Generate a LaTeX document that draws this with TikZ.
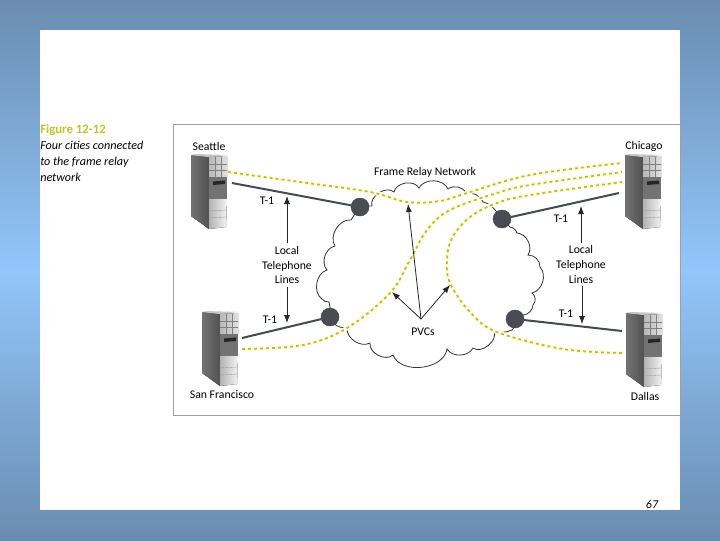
\documentclass[tikz,border=0pt]{standalone}
\usepackage{fontspec}
\setmainfont{Carlito}
\usetikzlibrary{arrows.meta}
\definecolor{bgedge}{HTML}{6A8CB0}
\definecolor{bgmid}{HTML}{93C6FA}
\definecolor{framegray}{HTML}{A0A0A0}
\definecolor{pvcyellow}{HTML}{B9B93C}
\definecolor{capyellow}{HTML}{C2C22E}
\definecolor{darkline}{HTML}{454B53}
\definecolor{popfill}{HTML}{4A4B53}
\tikzset{
  x=0.75pt,y=-0.75pt,
  lbl/.style={font=\fontsize{8.8pt}{10.7pt}\selectfont,text=black,inner sep=0pt,align=center},
  captext/.style={font=\fontsize{9.1pt}{12pt}\selectfont\itshape,inner sep=0pt,anchor=base west},
  pop/.style={circle,fill=popfill,draw=popfill!80!black,line width=0.3pt,minimum size=13.5pt,inner sep=0pt},
  tline/.style={draw=darkline,line width=1.5pt},
  pvchalo/.style={draw=yellow!12,line width=3.2pt,smooth,tension=0.6},
  pvc/.style={draw=pvcyellow,line width=1.3pt,dash pattern=on 2.2pt off 2.3pt,smooth,tension=0.6},
  arr/.style={draw=black!85,line width=0.6pt,-{Latex[length=6pt,width=4.5pt]}},
  cloud line/.style={draw=black!80,line width=0.6pt,fill=white},
  server/.pic={
    \fill[left color=black!55,right color=black!68] (0,0)--(18,2)--(18,74)--(0,61)--cycle;
    \fill[black!22] (0,0)--(5,-1)--(36,0)--(18,2)--cycle;
    \fill[left color=black!28,right color=black!12] (18,2)--(36,1)--(36,22)--(18,22)--cycle;
    \draw[black!50,line width=0.25pt] (24,2)--(24,22) (30,2)--(30,22) (18,9)--(36,9) (18,15)--(36,15);
    \fill[black!55] (18,22)--(36,22)--(36,44)--(18,44)--cycle;
    \fill[black!85] (22,26.5)--(34,25.5)--(34,29)--(22,30)--cycle;
    \fill[left color=black!30,right color=black!4] (18,44)--(36,44)--(35,72)--(18,74)--cycle;
    \draw[black!40,line width=0.25pt] (18,56)--(35.5,55) (18,63)--(35.5,62);
  },
}
\begin{document}
\begin{tikzpicture}
\useasboundingbox (0,0) rectangle (720,540);
\shade[top color=bgedge,bottom color=bgedge,middle color=bgmid] (0,0) rectangle (720,540);
\fill[white] (40,30) rectangle (680,510);
\draw[framegray,line width=0.7pt] (173.5,124) rectangle (680,415);

% caption
\node[lbl,anchor=base west,text=capyellow,font=\fontsize{9.6pt}{10pt}\selectfont\bfseries] (figno) at (40,133) {Figure 12-12};
\node[captext] (c1) at (40,149) {Four cities connected};
\node[captext] (c2) at (40,165) {to the frame relay};
\node[captext] (c3) at (40,181) {network};

% cloud
\path[cloud line] (372,206)
  to[bend left=75] (394,192) to[bend left=70] (419,188) to[bend left=65] (448,189)
  to[bend left=50] (466,193) to[bend left=35] (483,202) to[bend left=20] (495,210)
  -- (510,227) to[bend left=30] (517,233) to[bend left=60] (528,255) to[bend left=45] (540,267)
  to[bend left=60] (532,293) to[bend left=50] (533,305) to[bend left=40] (523,315)
  -- (512,330) to[bend left=20] (494,331) to[bend left=75] (473,348) to[bend left=60] (447,349)
  to[bend left=75] (393,355) to[bend left=70] (370,343) to[bend left=60] (347,328)
  to[bend left=20] (333,323) -- (329,302) to[bend left=25] (322,299)
  to[bend left=65] (327,270) to[bend left=60] (335,246) to[bend left=65] (351,220) -- (360,206) -- cycle;

% PVC paths
\coordinate (seaP) at (228,172);
\coordinate (chiA) at (622,163);
\coordinate (chiB) at (622,172);
\coordinate (chiC) at (622,182);
\coordinate (sfP) at (242,349);
\coordinate (dalP) at (622,353);
\draw[pvchalo] plot coordinates {(seaP) (300,182) (370,192) (407,202) (440,201) (467,193) (530,175) (chiA)};
\draw[pvchalo] plot coordinates {(sfP) (303,345) (347,328) (390,293) (410,260) (427,230) (450,210) (497,193) (530,185) (chiB)};
\draw[pvchalo] plot coordinates {(dalP) (563,349) (497,332) (470,312) (450,283) (447,260) (452,238) (470,217) (497,203) (530,195) (chiC)};
\draw[pvc] plot coordinates {(seaP) (300,182) (370,192) (407,202) (440,201) (467,193) (530,175) (chiA)};
\draw[pvc] plot coordinates {(sfP) (303,345) (347,328) (390,293) (410,260) (427,230) (450,210) (497,193) (530,185) (chiB)};
\draw[pvc] plot coordinates {(dalP) (563,349) (497,332) (470,312) (450,283) (447,260) (452,238) (470,217) (497,203) (530,195) (chiC)};

% servers
\pic (sea) at (191,155) {server};
\pic (chi) at (625,155) {server};
\pic (sf) at (202,312) {server};
\pic (dal) at (626,313) {server};

% points of presence
\node[pop] (p1) at (360,207) {};
\node[pop] (p2) at (502,219) {};
\node[pop] (p3) at (330,317) {};
\node[pop] (p4) at (515,319) {};

\coordinate (seaT) at (232,183);
\coordinate (chiT) at (619,193);
\coordinate (sfT) at (242,338);
\coordinate (dalT) at (622,331);
\draw[tline] (seaT) -- (p1);
\draw[tline] (chiT) -- (p2);
\draw[tline] (sfT) -- (p3);
\draw[tline] (dalT) -- (p4);

% labels
\node[lbl] (lsea) at (209,146) {Seattle};
\node[lbl] (lchi) at (644,146) {Chicago};
\node[lbl] (lsf) at (222,394) {San Francisco};
\node[lbl] (ldal) at (645,396) {Dallas};
\node[lbl] (t1) at (267,201) {T-1};
\node[lbl] (t2) at (561,219) {T-1};
\node[lbl] (t3) at (270,320) {T-1};
\node[lbl] (t4) at (566,314) {T-1};
\node[lbl] (frn) at (425,172) {Frame Relay Network};
\node[lbl] (pvcs) at (423,332) {PVCs};
\node[lbl,outer sep=2pt] (ltl) at (287,265) {Local\\[0.5pt]Telephone\\[0.5pt]Lines};
\node[lbl,outer sep=2pt] (ltr) at (581,264.5) {Local\\[0.5pt]Telephone\\[0.5pt]Lines};

% arrows
\coordinate (ta1) at (287,196);
\coordinate (ta2) at (287,323);
\coordinate (ta3) at (581,206);
\coordinate (ta4) at (582,324);
\draw[arr] (ltl.north) -- (ta1);
\draw[arr] (ltl.south) -- (ta2);
\draw[arr] (ltr.north) -- (ta3);
\draw[arr] (ltr.south -| ta4) -- (ta4);
\coordinate (hub) at (421,319);
\coordinate (pa) at (408,204);
\coordinate (pb) at (392,292);
\coordinate (pc) at (450,285);
\draw[arr] (hub) -- (pa);
\draw[arr] (hub) -- (pb);
\draw[arr] (hub) -- (pc);

\node[inner sep=0pt,font=\fontsize{9pt}{10pt}\selectfont\itshape] (page) at (652,504) {67};
\end{tikzpicture}
\end{document}
